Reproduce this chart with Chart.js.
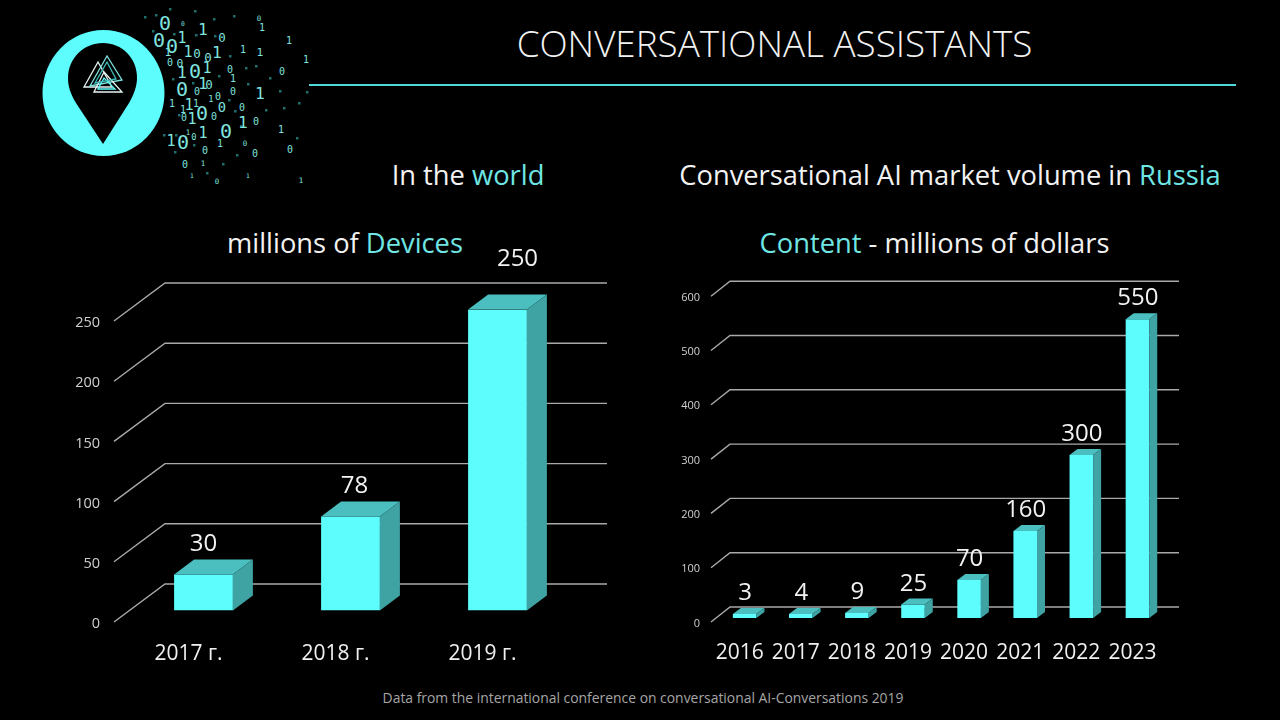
<!DOCTYPE html>
<html>
<head>
<meta charset="utf-8">
<title>Conversational assistants</title>
<script src="https://cdn.jsdelivr.net/npm/chart.js@4"></script>
<style>
  html, body { margin: 0; padding: 0; background: #000; }
  #page { position: relative; width: 1280px; height: 720px; overflow: hidden; background: #000; font-family: "Open Sans", sans-serif; color: #f2f2f2; }
  canvas { position: absolute; top: 240px; }
  #logo { position: absolute; left: 0; top: 0; }
  .txt { position: absolute; white-space: nowrap; transform: translate(-50%, -50%); }
  .sub { font-size: 27.3px; }
  .hl { color: #6fe6e4; }
  #title { left: 774.5px; top: 42.5px; font-size: 36.8px; font-weight: 300; }
  #rule { position: absolute; left: 309px; top: 84px; width: 927px; height: 2px; background: #4fd8d8; }
  #foot { left: 643px; top: 697px; font-size: 13.9px; color: #a6a6a6; }
</style>
</head>
<body>
<div id="page">
  <svg id="logo" width="320" height="200" viewBox="0 0 320 200"></svg>
  <div class="txt" id="title">CONVERSATIONAL ASSISTANTS</div>
  <div id="rule"></div>
  <div class="txt sub" style="left:468px;top:174px">In the <span class="hl">world</span></div>
  <div class="txt sub" style="left:345px;top:242px">millions of <span class="hl">Devices</span></div>
  <div class="txt sub" style="left:950px;top:174px">Conversational AI market volume in <span class="hl">Russia</span></div>
  <div class="txt sub" style="left:934.5px;top:242px"><span class="hl">Content</span> - millions of dollars</div>
  <canvas id="worldChart" width="640" height="440" style="left:0"></canvas>
  <canvas id="russiaChart" width="640" height="440" style="left:640px"></canvas>
  <div class="txt" id="foot">Data from the international conference on conversational AI-Conversations 2019</div>
</div>
<script>
// Chart data
const worldYears = ["2017 г.", "2018 г.", "2019 г."];
const worldDevices = [30, 78, 250];
const russiaYears = ["2016", "2017", "2018", "2019", "2020", "2021", "2022", "2023"];
const russiaContent = [3, 4, 9, 25, 70, 160, 300, 550];

// Decoration next to the logo
const zeros = [[165,23,16],[159,40,16],[172,46,16],[195,71,16],[182,89,16],[202,113,16],[226,131,16],[183,142,16],
  [208,57,10],[197,53,10],[222,37,10],[180,63,9],[170,62,8],[230,69,8],[209,84,10],[197,91,8],[218,96,8],[233,91,8],
  [222,107,11],[242,107,8],[214,116,8],[184,117,8],[256,121,8],[194,137,7],[205,150,8],[245,143,6],[255,153,8],
  [290,149,8],[185,164,8],[217,181,6],[282,71,8],[259,18,6],[183,23,5]];
const ones = [[203,29,13],[182,38,12],[168,52,9],[188,52,12],[217,52,13],[243,49,8],[262,27,8],[289,40,8],[260,52,9],
  [306,59,8],[207,68,12],[182,72,13],[203,83,13],[233,78,8],[260,93,13],[172,103,8],[183,109,8],[189,105,12],[196,103,8],
  [211,99,7],[192,119,12],[243,122,13],[203,133,12],[171,141,12],[220,143,8],[281,129,8],[203,163,6],[192,175,5],[248,175,5],[301,180,6],[188,132,6]];
const specks = [[144,16],[155,14],[169,8],[194,10],[213,18],[233,15],[152,30],[173,33],[195,34],[214,35],[229,55],[245,67],[255,65],[269,77],
  [172,78],[192,82],[218,75],[247,83],[279,90],[306,91],[228,99],[234,110],[265,109],[283,107],[298,102],[178,114],[240,125],
  [163,134],[175,134],[193,144],[236,154],[296,137],[174,151],[222,163],[206,172]];

function buildLogo() {
  const svg = document.getElementById("logo");
  let html = "";
  specks.forEach(s => {
    html += `<rect x="${s[0]}" y="${s[1]}" width="2.5" height="2.5" fill="#1f6f6c"/>`;
  });
  zeros.concat(ones).forEach((d, i) => {
    const digit = i < zeros.length ? "0" : "1";
    html += `<text x="${d[0]}" y="${d[1]}" font-family="DejaVu Sans Mono" font-size="${d[2]*1.25}" text-anchor="middle" dominant-baseline="central" fill="#7fe3df">${digit}</text>`;
  });
  html += `<ellipse cx="103.5" cy="93" rx="61" ry="63" fill="#5dfdfd"/>`;
  html += `<path d="M103 144 L76 103 C70 93 68 86 68 78 C68 58 84 43 103 43 C122 43 137 58 137 78 C137 86 134 94 129 103 Z" fill="#000"/>`;
  html += `<g fill="none" stroke-width="1.3">
    <path d="M98 62 L84 87 L112 87 Z" stroke="#e8f5f5"/>
    <path d="M107 56 L90 86 L122 80 Z" stroke="#7fe3df"/>
    <path d="M104 72 L94 92 L122 92 Z" stroke="#e8f5f5"/>
    <path d="M104 78 L98 89 L115 89 Z" stroke="#5dfdfd"/>
    <path d="M107 62 L95 83 L116 79 Z" stroke="#3fbfbd"/>
  </g>`;
  svg.innerHTML = html;
}
buildLogo();

// Draws the back wall lines and the fake 3D faces on top of the library's bars
const depthPlugin = {
  id: "depth",
  beforeDatasetsDraw(chart, args, opts) {
    const { ctx, chartArea, scales } = chart;
    ctx.save();
    ctx.strokeStyle = "#a9a9a9";
    ctx.lineWidth = 1.4;
    scales.y.ticks.forEach(t => {
      const y = scales.y.getPixelForValue(t.value);
      ctx.beginPath();
      ctx.moveTo(chartArea.left + opts.frontX, y + opts.frontY);
      ctx.lineTo(chartArea.left + opts.backX, y + opts.backY);
      ctx.lineTo(chartArea.right + opts.endX, y + opts.backY);
      ctx.stroke();
    });
    ctx.restore();
  },
  afterDatasetsDraw(chart, args, opts) {
    const { ctx } = chart;
    const bars = chart.getDatasetMeta(0).data;
    ctx.save();
    bars.forEach((bar, i) => {
      const left = bar.x - bar.width / 2;
      const right = bar.x + bar.width / 2;
      const dx = opts.barDepthX, dy = opts.barDepthY;
      // top face
      ctx.fillStyle = "#4bbfbf";
      ctx.beginPath();
      ctx.moveTo(left, bar.y);
      ctx.lineTo(left + dx, bar.y - dy);
      ctx.lineTo(right + dx, bar.y - dy);
      ctx.lineTo(right, bar.y);
      ctx.closePath();
      ctx.fill();
      // side face
      ctx.fillStyle = "#3fa3a3";
      ctx.beginPath();
      ctx.moveTo(right, bar.y);
      ctx.lineTo(right + dx, bar.y - dy);
      ctx.lineTo(right + dx, bar.base - dy);
      ctx.lineTo(right, bar.base);
      ctx.closePath();
      ctx.fill();
      // value above the bar
      const shift = opts.labelShift[i];
      ctx.fillStyle = "#f2f2f2";
      ctx.font = opts.labelFont;
      ctx.textAlign = "center";
      ctx.textBaseline = "middle";
      ctx.fillText(chart.data.datasets[0].data[i], bar.x + shift[0], bar.y - shift[1]);
    });
    ctx.restore();
  }
};

function makeChart(id, labels, values, o) {
  return new Chart(document.getElementById(id), {
    type: "bar",
    data: {
      labels: labels,
      datasets: [{ data: values, backgroundColor: "#5dfdfd", borderWidth: 0, barPercentage: o.barPct, categoryPercentage: 1, minBarLength: o.minBar }]
    },
    plugins: [depthPlugin],
    options: {
      responsive: false,
      animation: false,
      layout: { padding: o.padding },
      plugins: {
        legend: { display: false },
        tooltip: { enabled: false },
        depth: o.depth
      },
      scales: {
        x: {
          grid: { display: false },
          border: { display: false },
          ticks: { color: "#f0f0f0", font: { family: "Open Sans", size: 21 }, padding: o.xPad, labelOffset: o.xShift, maxRotation: 0, autoSkip: false },
          afterFit: s => { s.height = o.xHeight; }
        },
        y: {
          min: 0,
          max: o.max,
          grid: { display: false, drawTicks: false },
          border: { display: false },
          ticks: { stepSize: o.step, color: "#d0d0d0", font: { family: "Open Sans", size: o.yFont }, padding: o.yPad, labelOffset: o.yShift },
          afterFit: s => { s.width = o.yWidth; }
        }
      }
    }
  });
}

Chart.defaults.font.family = "Open Sans";

makeChart("worldChart", worldYears, worldDevices, {
  max: 250, step: 50, barPct: 0.4, minBar: 0, yFont: 14.5, yPad: 30, yShift: 13.5, yWidth: 130, xPad: 23, xShift: -15, xHeight: 69.5,
  padding: { top: 69.5, right: 69, left: 0, bottom: 0 },
  depth: {
    frontX: -16, frontY: 11.5, backX: 35, backY: -26.5, endX: 36, barDepthX: 20, barDepthY: 15,
    labelFont: "24px 'Open Sans'", labelShift: [[0, 30.5], [4, 30.5], [20, 50]]
  }
});

makeChart("russiaChart", russiaYears, russiaContent, {
  max: 600, step: 100, barPct: 0.42, minBar: 4, yFont: 11, yPad: 16.5, yShift: 5.5, yWidth: 76.6, xPad: 14, xShift: -5, xHeight: 62,
  padding: { top: 52.2, right: 114.5, left: 0, bottom: 0 },
  depth: {
    frontX: -5.6, frontY: 4, backX: 13.4, backY: -11, endX: 13.5, barDepthX: 8, barDepthY: 6,
    labelFont: "24px 'Open Sans'", labelShift: russiaContent.map(() => [0.5, 20.7])
  }
});
</script>
</body>
</html>
